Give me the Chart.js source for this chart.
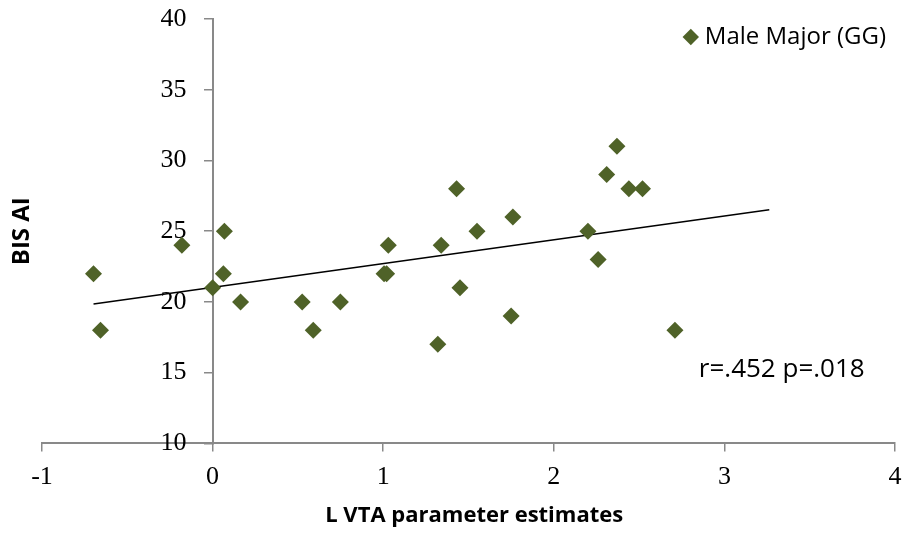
<!DOCTYPE html>
<html>
<head>
<meta charset="utf-8">
<script src="https://cdn.jsdelivr.net/npm/chart.js@4.4.1/dist/chart.umd.min.js"></script>
<style>
  html, body { margin: 0; padding: 0; background: #fff; }
  #wrap { width: 908px; height: 535px; }
</style>
</head>
<body>
<div id="wrap"><canvas id="graph" width="908" height="535"></canvas></div>
<script>
// values (L VTA estimate, BIS AI score)
var vtaEstimates = [-0.698, -0.657, -0.18, 0.0, 0.069, 0.063, 0.164, 0.525, 0.59, 0.749,
                    1.005, 1.02, 1.03, 1.32, 1.34, 1.43, 1.45, 1.55, 1.75, 1.76,
                    2.20, 2.26, 2.31, 2.37, 2.44, 2.52, 2.71];
var bisScores = [22, 18, 24, 21, 25, 22, 20, 20, 18, 20,
                 22, 22, 24, 17, 24, 28, 21, 25, 19, 26,
                 25, 23, 29, 31, 28, 28, 18];

// linear fit, ends as drawn
var fitX = [-0.698, 3.263];
var fitY = [19.86, 26.52];

var xTicks = [-1, 0, 1, 2, 3, 4];
var yTicks = [10, 15, 20, 25, 30, 35, 40];

var seriesName = "Male Major (GG)";
var statsText = "r=.452 p=.018";

var green = "#4F6228";
var axisGrey = "#898989";
var sans = "'Open Sans', 'Noto Sans', sans-serif";
var serif = "'Liberation Serif', 'DejaVu Serif', serif";

function toPoints(xs, ys) {
    var pts = [];
    for (let i = 0; i < xs.length; i++) {
        pts.push({x: xs[i], y: ys[i]});
    }
    return pts;
}

// y title and the r/p note are just text on the canvas,
// and the legend gets pushed into the top right corner of the plot
var extraText = {
    id: 'extraText',
    beforeDraw: function (chart) {
        const lg = chart.legend;
        if (!lg || !lg.columnSizes || !lg.columnSizes.length) return;
        const pad = lg.options.labels.padding;
        const w = lg.columnSizes[0].width;
        lg.left = 886 - pad - w;
        lg.top = 37 - pad - lg.options.labels.font.size / 2;
    },
    afterDraw: function (chart) {
        const ctx = chart.ctx;
        const xs = chart.scales.x, ys = chart.scales.y;
        ctx.save();
        ctx.fillStyle = "#000";
        ctx.font = "bold 24px " + sans;
        ctx.textAlign = "center";
        ctx.textBaseline = "middle";
        ctx.translate(22, (chart.chartArea.top + chart.chartArea.bottom) / 2);
        ctx.rotate(-Math.PI / 2);
        ctx.fillText("BIS AI", 0, 0);
        ctx.restore();

        ctx.save();
        ctx.fillStyle = "#000";
        ctx.font = "26px " + sans;
        ctx.textAlign = "left";
        ctx.textBaseline = "middle";
        ctx.fillText(statsText, xs.getPixelForValue(2.85), ys.getPixelForValue(15.2));
        ctx.restore();
    }
};

new Chart(document.getElementById('graph'), {
    type: 'scatter',
    data: {
        datasets: [{
            label: seriesName,
            data: toPoints(vtaEstimates, bisScores),
            pointStyle: 'rectRot',
            pointRadius: 8.5,
            pointHoverRadius: 8.5,
            backgroundColor: green,
            borderColor: green,
            borderWidth: 0
        }, {
            label: 'fit',
            data: toPoints(fitX, fitY),
            showLine: true,
            borderColor: '#000',
            borderWidth: 1.5,
            pointRadius: 0,
            fill: false
        }]
    },
    options: {
        responsive: false,
        animation: false,
        events: [],
        layout: {
            padding: {left: 42, right: 13, top: 19, bottom: 0}
        },
        scales: {
            x: {
                type: 'linear',
                position: 'bottom',
                min: -1,
                max: 4,
                afterBuildTicks: function (axis) {
                    axis.ticks = xTicks.map(v => ({value: v}));
                },
                afterFit: function (axis) {
                    // label padding would otherwise eat into the right edge
                    axis.paddingRight = 8;
                },
                ticks: {
                    color: '#000',
                    font: {family: serif, size: 26, lineHeight: 1.2},
                    padding: 10
                },
                grid: {
                    drawOnChartArea: false,
                    drawTicks: true,
                    tickLength: 8,
                    color: axisGrey,
                    lineWidth: 1.5
                },
                border: {color: axisGrey, width: 2},
                title: {
                    display: true,
                    text: '  L VTA parameter estimates',
                    color: '#000',
                    font: {family: sans, size: 22, weight: 'bold', lineHeight: 1.2},
                    padding: {top: 0, bottom: 6}
                }
            },
            y: {
                type: 'linear',
                position: {x: 0},
                min: 10,
                max: 40,
                afterBuildTicks: function (axis) {
                    axis.ticks = yTicks.map(v => ({value: v}));
                },
                ticks: {
                    color: '#000',
                    font: {family: serif, size: 26, lineHeight: 1.2},
                    callback: function (v) { return v + '    '; }
                },
                grid: {
                    drawOnChartArea: false,
                    drawTicks: true,
                    tickLength: 8,
                    color: axisGrey,
                    lineWidth: 1.5
                },
                border: {color: axisGrey, width: 2}
            }
        },
        plugins: {
            legend: {
                display: true,
                position: 'chartArea',
                align: 'start',
                labels: {
                    usePointStyle: true,
                    pointStyle: 'rectRot',
                    boxWidth: 4,
                    boxHeight: 11.6,
                    padding: 10,
                    color: '#000',
                    font: {family: sans, size: 24},
                    filter: function (item) { return item.datasetIndex === 0; }
                }
            },
            tooltip: {enabled: false}
        }
    },
    plugins: [extraText]
});
</script>
</body>
</html>
